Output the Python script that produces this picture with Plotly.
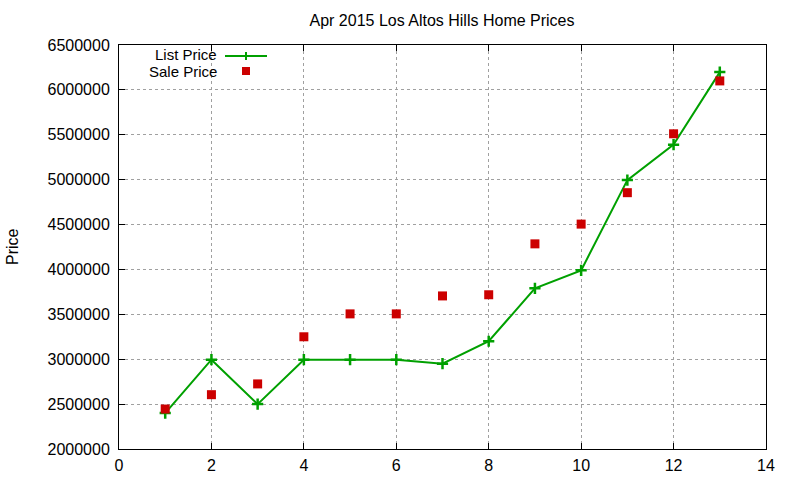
import plotly.graph_objects as go

# listing index vs. price
homes = list(range(1, 14))
list_price = [2400000, 2995000, 2500000, 2995000, 2995000, 2995000, 2950000,
              3200000, 3790000, 3990000, 4995000, 5390000, 6198000]
sale_price = [2445000, 2605000, 2725000, 3250000, 3505000, 3505000, 3705000,
              3718000, 4285000, 4505000, 4855000, 5511000, 6100000]

x_ticks = list(range(0, 15, 2))
y_ticks = list(range(2000000, 6500001, 500000))

GREEN = "#00a000"
RED = "#cc0000"
FONT = "Liberation Sans, Arial, sans-serif"

# plot box in pixels (800x480 page)
L, R, T, B = 119, 766, 45, 449


def px(x):
    return (x - L) / (R - L)


def py(y):
    return (B - y) / (B - T)


fig = go.Figure()
fig.add_trace(go.Scatter(
    x=homes, y=list_price, name="List Price", mode="lines+markers",
    line=dict(color=GREEN, width=2),
    marker=dict(symbol="cross-thin-open", size=8, line=dict(color=GREEN, width=2.5)),
))
fig.add_trace(go.Scatter(
    x=homes, y=sale_price, name="Sale Price", mode="markers",
    marker=dict(symbol="square", size=9, color=RED),
))

axis = dict(
    showline=True, linecolor="black", linewidth=1, mirror="allticks",
    ticks="inside", ticklen=6, tickcolor="black", automargin=False,
    showgrid=True, gridcolor="#a0a0a0", griddash="dot", gridwidth=1,
    zeroline=False, tickfont=dict(family=FONT, size=16, color="black"),
)

fig.update_layout(
    width=800, height=480,
    margin=dict(l=L, r=800 - R, t=T, b=480 - B),
    paper_bgcolor="white", plot_bgcolor="white",
    showlegend=False,
    font=dict(family=FONT, size=16, color="black"),
    title=dict(text="Apr 2015 Los Altos Hills Home Prices", x=px(442), xref="paper",
               xanchor="center", y=1 - 20 / 480, yanchor="middle",
               font=dict(family=FONT, size=16, color="black")),
    xaxis=dict(axis, range=[0, 14], tickvals=x_ticks, ticklabelstandoff=2),
    yaxis=dict(axis, range=[2000000, 6500000], tickvals=y_ticks, tickformat="d",
               ticklabelstandoff=5),
)

fig.add_annotation(text="Price", xref="paper", yref="paper", x=px(12), y=py(247),
                   xanchor="center", yanchor="middle",
                   textangle=-90, showarrow=False, font=dict(family=FONT, size=16))

# gnuplot-style key: label first, then the sample
for label, yy in [("List Price", 54), ("Sale Price", 72)]:
    fig.add_annotation(text=label, xref="paper", yref="paper", x=px(218), y=py(yy),
                       xanchor="right", yanchor="middle", showarrow=False,
                       borderpad=0, font=dict(family=FONT, size=15))
fig.add_shape(type="line", xref="paper", yref="paper", x0=px(225), x1=px(267),
              y0=py(56), y1=py(56), line=dict(color=GREEN, width=2))
fig.add_shape(type="line", xref="paper", yref="paper", x0=px(246), x1=px(246),
              y0=py(52), y1=py(60), line=dict(color=GREEN, width=2))
fig.add_shape(type="rect", xref="paper", yref="paper", x0=px(242), x1=px(250),
              y0=py(67), y1=py(75), line=dict(width=0), fillcolor=RED)

# drop the default body margin so the figure sits at the page corner
fig.write_html("out.html", config={"displayModeBar": False},
               post_script="document.body.style.margin='0';")
